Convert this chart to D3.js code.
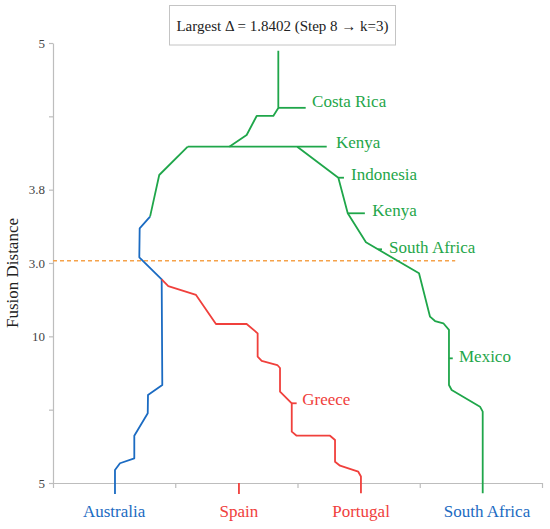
<!DOCTYPE html>
<html>
<head>
<meta charset="utf-8">
<script src="https://cdn.jsdelivr.net/npm/d3@7"></script>
<style>
  body { margin: 0; background: #fff; }
  text { font-family: "Liberation Serif", "Times New Roman", serif; }
</style>
</head>
<body>
<div id="vizArea"></div>
<script>
// DATA (x in leaf units, y in level units)
var categories = ["Australia", "Spain", "Portugal", "South Africa"];
var categoryPos = [0.5, 1.52, 2.52, 3.55];
var categoryColor = ["blue", "red", "red", "blue"];
var yTicks = [0, 1, 2, 3, 4, 5, 6];
var yTickLabels = ["5", "", "10", "3.0", "3.8", "", "5"];
var cutLevel = 3.03;
var cutEnd = 3.29;

var greenRoot = [[1.843, 5.895], [1.843, 5.114], [1.802, 5.005], [1.666, 5.005], [1.584, 4.746], [1.442, 4.586]];
var greenBar = [[1.102, 4.586], [2.239, 4.586]];
var greenLeft = [[1.102, 4.586], [0.869, 4.2], [0.794, 3.632]];
var greenRight = [[1.998, 4.586], [2.334, 4.163], [2.411, 3.678], [2.56, 3.282], [2.994, 2.86],
  [3.084, 2.268], [3.125, 2.209], [3.193, 2.178], [3.239, 2.087], [3.239, 1.336], [3.261, 1.268],
  [3.493, 1.041], [3.515, 0.973], [3.515, -0.14]];
var blueLeaf = [[0.794, 3.632], [0.709, 3.473], [0.706, 3.078], [0.889, 2.778], [0.894, 1.336],
  [0.777, 1.2], [0.775, 0.95], [0.665, 0.645], [0.665, 0.337], [0.548, 0.269], [0.507, 0.177], [0.507, -0.15]];
var redBranch = [[0.889, 2.778], [0.943, 2.686], [1.17, 2.564], [1.333, 2.168], [1.584, 2.168],
  [1.674, 2.041], [1.674, 1.722], [1.707, 1.664], [1.835, 1.609], [1.857, 1.568], [1.857, 1.245],
  [1.953, 1.087], [1.953, 0.7], [1.993, 0.645], [2.266, 0.645], [2.307, 0.586], [2.307, 0.29],
  [2.348, 0.236], [2.497, 0.154], [2.519, 0.089], [2.519, -0.14]];
var spainStub = [[1.521, 0], [1.521, -0.15]];

// leaf label stubs: [x0, x1, y]
var stubs = [
  {x0: 1.843, x1: 2.067, y: 5.116, c: "green"},
  {x0: 2.334, x1: 2.38, y: 4.163, c: "green"},
  {x0: 2.411, x1: 2.551, y: 3.678, c: "green"},
  {x0: 2.659, x1: 2.691, y: 3.187, c: "green"},
  {x0: 3.239, x1: 3.27, y: 1.7, c: "green"},
  {x0: 1.953, x1: 1.993, y: 1.087, c: "red"}
];
var leafNames = ["Costa Rica", "Kenya", "Indonesia", "Kenya", "South Africa", "Mexico", "Greece"];
var leafX = [2.119, 2.315, 2.438, 2.612, 2.748, 3.321, 2.039];
var leafY = [5.209, 4.65, 4.214, 3.723, 3.214, 1.732, 1.145];
var leafColor = ["green", "green", "green", "green", "green", "green", "red"];

var colors = {green: "#1fa64a", blue: "#1b6bc2", red: "#f0403c", orange: "#f5a24a"};
var serif = "'Liberation Serif', 'Times New Roman', serif";

var W = 550, H = 529;
var canvas = d3.select("#vizArea")
  .append("svg")
    .attr("width", W)
    .attr("height", H);

var x = d3.scaleLinear().domain([0, 4]).range([53, 542]);
var y = d3.scaleLinear().domain([0, 6]).range([483, 43]);

// AXES
var yAxis = canvas.append("g")
  .attr("transform", "translate(" + x(0) + ",0)")
  .call(d3.axisLeft(y).tickValues(yTicks).tickFormat(function (d, i) { return yTickLabels[i]; })
    .tickSize(4).tickSizeOuter(0).tickPadding(4));
var xAxis = canvas.append("g")
  .attr("transform", "translate(0," + y(0) + ")")
  .call(d3.axisBottom(x).tickValues([0, 1, 2, 3, 4]).tickFormat("").tickSize(5).tickSizeOuter(0));
[yAxis, xAxis].forEach(function (g) {
  g.attr("font-family", serif);
  g.selectAll("path, line").attr("stroke", "#bdbdbd").attr("stroke-width", 1.2);
  g.selectAll("text").attr("fill", "#444").style("font-size", "13px")
    .style("font-family", serif);
});

canvas.append("text")
  .attr("transform", "translate(18," + 273 + ") rotate(-90)")
  .attr("text-anchor", "middle")
  .attr("fill", "#222")
  .style("font-family", serif)
  .style("font-size", "17px")
  .text("Fusion Distance");

// cut line
canvas.append("line")
  .attr("x1", x(0)).attr("x2", x(cutEnd))
  .attr("y1", y(cutLevel)).attr("y2", y(cutLevel))
  .attr("stroke", colors.orange).attr("stroke-width", 1.5)
  .attr("stroke-dasharray", "4,3");

// TREE
var line = d3.line().x(function (d) { return x(d[0]); }).y(function (d) { return y(d[1]); });
var segs = [
  {p: greenRoot, c: "green"}, {p: greenBar, c: "green"}, {p: greenLeft, c: "green"},
  {p: greenRight, c: "green"}, {p: blueLeaf, c: "blue"}, {p: redBranch, c: "red"},
  {p: spainStub, c: "red"}
];
canvas.selectAll(".seg").data(segs).enter().append("path")
  .attr("class", "seg")
  .attr("d", function (d) { return line(d.p); })
  .attr("fill", "none")
  .attr("stroke", function (d) { return colors[d.c]; })
  .attr("stroke-width", 1.8)
  .attr("stroke-linejoin", "round");

canvas.selectAll(".stub").data(stubs).enter().append("line")
  .attr("x1", function (d) { return x(d.x0); })
  .attr("x2", function (d) { return x(d.x1); })
  .attr("y1", function (d) { return y(d.y); })
  .attr("y2", function (d) { return y(d.y); })
  .attr("stroke", function (d) { return colors[d.c]; })
  .attr("stroke-width", 1.8);

canvas.selectAll(".leaf").data(leafNames).enter().append("text")
  .attr("x", function (d, i) { return x(leafX[i]); })
  .attr("y", function (d, i) { return y(leafY[i]); })
  .attr("dy", "0.35em")
  .attr("fill", function (d, i) { return colors[leafColor[i]]; })
  .style("font-family", serif)
  .style("font-size", "17px")
  .text(function (d) { return d; });

// category labels
canvas.selectAll(".cat").data(categories).enter().append("text")
  .attr("x", function (d, i) { return x(categoryPos[i]); })
  .attr("y", 517)
  .attr("text-anchor", "middle")
  .attr("fill", function (d, i) { return colors[categoryColor[i]]; })
  .style("font-family", serif)
  .style("font-size", "17px")
  .text(function (d) { return d; });

// TITLE BOX
canvas.append("rect")
  .attr("x", 169.5).attr("y", 5.5)
  .attr("width", 226).attr("height", 39.5)
  .attr("fill", "#fff")
  .attr("stroke", "#c4c4c4");
canvas.append("text")
  .attr("x", 282.5).attr("y", 25.5)
  .attr("dy", "0.35em")
  .attr("text-anchor", "middle")
  .attr("fill", "#222")
  .style("font-family", serif)
  .style("font-size", "15px")
  .text("Largest \u0394 = 1.8402 (Step 8 \u2192 k=3)");
</script>
</body>
</html>
